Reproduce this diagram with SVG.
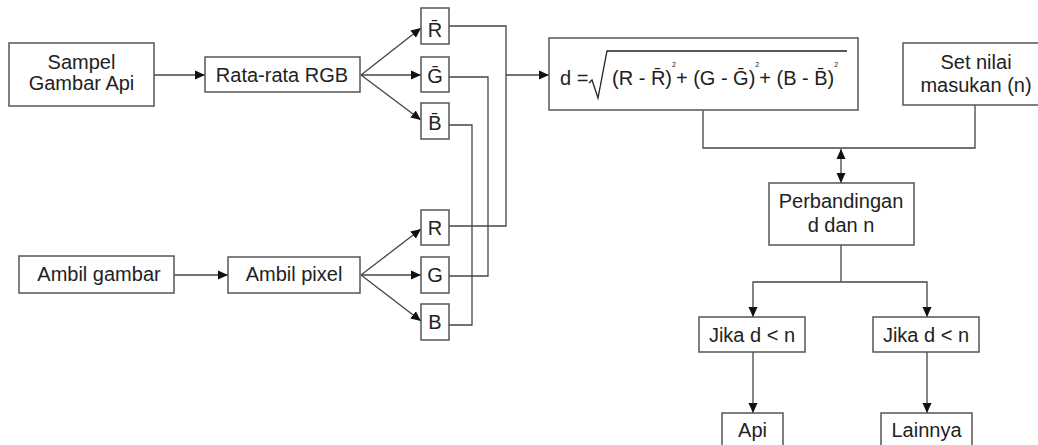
<svg xmlns="http://www.w3.org/2000/svg" width="1038" height="445" viewBox="0 0 1038 445">
<style>
.box{fill:#fff;stroke:#555;stroke-width:1.5}
.t{font-family:"Liberation Sans",Arial,sans-serif;font-size:20px;fill:#222;text-anchor:middle}
.f{font-family:"Liberation Sans",Arial,sans-serif;font-size:20px;fill:#222}
.s{font-size:7px}
.c{fill:none;stroke:#444;stroke-width:1.3}
</style>
<defs>
<marker id="ah" viewBox="0 0 10 10" refX="10" refY="5" markerWidth="10" markerHeight="10" markerUnits="userSpaceOnUse" orient="auto-start-reverse">
<path d="M0,0.5 L10,5 L0,9.5 z" fill="#111"/>
</marker>
</defs>
<rect width="1038" height="445" fill="#fff"/>
<g id="connectors">
<line class="c" x1="154" y1="75" x2="205" y2="75" marker-end="url(#ah)"/>
<line class="c" x1="174" y1="275" x2="228" y2="275" marker-end="url(#ah)"/>
<line class="c" x1="361" y1="75" x2="421" y2="28" marker-end="url(#ah)"/>
<line class="c" x1="361" y1="75" x2="421" y2="75" marker-end="url(#ah)"/>
<line class="c" x1="361" y1="75" x2="421" y2="120" marker-end="url(#ah)"/>
<line class="c" x1="361" y1="275" x2="421" y2="229" marker-end="url(#ah)"/>
<line class="c" x1="361" y1="275" x2="421" y2="275" marker-end="url(#ah)"/>
<line class="c" x1="361" y1="275" x2="421" y2="321" marker-end="url(#ah)"/>
<polyline class="c" points="449,26 506,26 506,226 449,226"/>
<polyline class="c" points="449,77 488,77 488,276 449,276"/>
<polyline class="c" points="449,125 472,125 472,325 449,325"/>
<line class="c" x1="506" y1="75" x2="549" y2="75" marker-end="url(#ah)"/>
<polyline class="c" points="703,110 703,148 975,148 975,105"/>
<line class="c" x1="841" y1="149" x2="841" y2="183" marker-start="url(#ah)" marker-end="url(#ah)"/>
<line class="c" x1="841" y1="245" x2="841" y2="282"/>
<polyline class="c" points="753,317 753,282 927,282 927,317" marker-start="url(#ah)" marker-end="url(#ah)"/>
<line class="c" x1="753" y1="352" x2="753" y2="413" marker-end="url(#ah)"/>
<line class="c" x1="927" y1="352" x2="927" y2="413" marker-end="url(#ah)"/>
</g>
<g id="sampel"><rect class="box" x="9" y="43" width="145" height="63"/><text class="t" x="81.5" y="69">Sampel</text><text class="t" x="81.5" y="90">Gambar Api</text></g>
<g id="rata"><rect class="box" x="205" y="57" width="155" height="35"/><text class="t" x="282" y="82">Rata-rata RGB</text></g>
<g id="rbar"><rect class="box" x="421" y="8" width="28" height="36"/><text class="t" x="435" y="37">R̄</text></g>
<g id="gbar"><rect class="box" x="421" y="57" width="28" height="35"/><text class="t" x="435" y="83">Ḡ</text></g>
<g id="bbar"><rect class="box" x="421" y="103" width="28" height="36"/><text class="t" x="435" y="130">B̄</text></g>
<g id="ambilgambar"><rect class="box" x="19" y="256" width="155" height="37"/><text class="t" x="99" y="281">Ambil gambar</text></g>
<g id="ambilpixel"><rect class="box" x="228" y="257" width="132" height="36"/><text class="t" x="294" y="281">Ambil pixel</text></g>
<g id="r"><rect class="box" x="421" y="210" width="28" height="35"/><text class="t" x="435" y="235">R</text></g>
<g id="g"><rect class="box" x="421" y="257" width="28" height="36"/><text class="t" x="435" y="282">G</text></g>
<g id="b"><rect class="box" x="421" y="304" width="28" height="36"/><text class="t" x="435" y="329">B</text></g>
<g id="formula"><rect class="box" x="549" y="38" width="309" height="72"/>
<text class="f" x="560" y="85">d =</text>
<polyline points="589,83 592,80 598,98 607,51 847,51" fill="none" stroke="#222" stroke-width="1.3"/>
<text class="f" y="85"><tspan x="612">(R - R̄)</tspan><tspan class="s" dy="-18">2</tspan><tspan dy="18">+ (G - Ḡ)</tspan><tspan class="s" dy="-18">2</tspan><tspan dy="18">+ (B - B̄)</tspan><tspan class="s" dy="-18">2</tspan></text>
</g>
<g id="setnilai"><rect class="box" x="903" y="43" width="150" height="62"/><text class="t" x="976" y="69">Set nilai</text><text class="t" x="976" y="92">masukan (n)</text></g>
<g id="perbandingan"><rect class="box" x="769" y="183" width="145" height="62"/><text class="t" x="841" y="208">Perbandingan</text><text class="t" x="841" y="232">d dan n</text></g>
<g id="jika1"><rect class="box" x="699" y="317" width="106" height="35"/><text class="t" x="752" y="342">Jika d &lt; n</text></g>
<g id="jika2"><rect class="box" x="873" y="317" width="106" height="35"/><text class="t" x="926" y="342">Jika d &lt; n</text></g>
<g id="api"><rect class="box" x="722" y="413" width="61" height="45"/><text class="t" x="752.5" y="437">Api</text></g>
<g id="lainnya"><rect class="box" x="881" y="413" width="91" height="45"/><text class="t" x="926.5" y="437">Lainnya</text></g>
</svg>
